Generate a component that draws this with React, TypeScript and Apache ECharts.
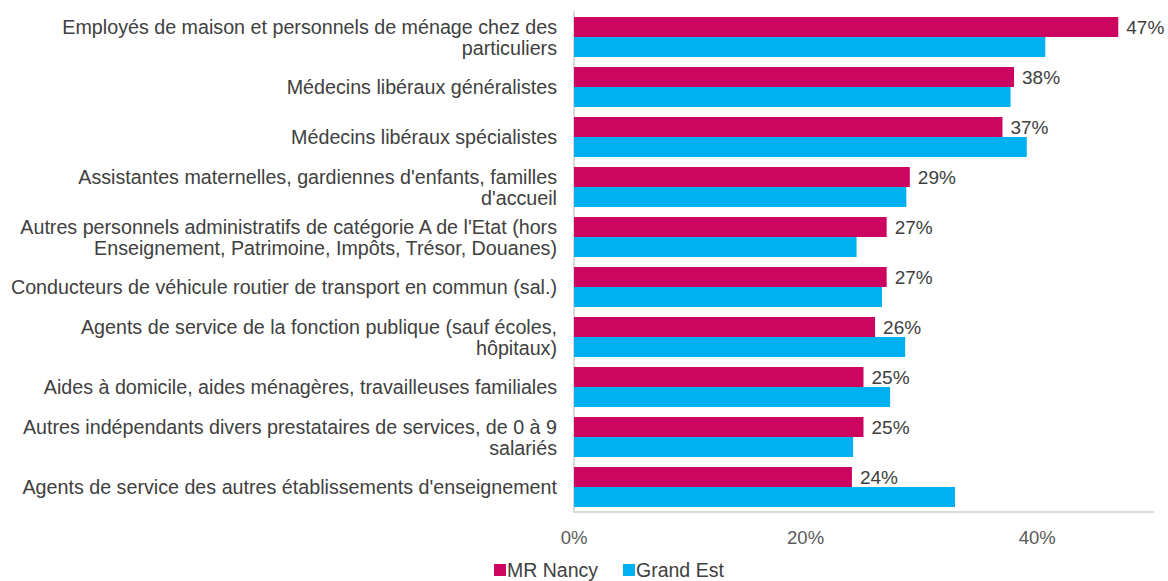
import React, { useEffect, useRef } from "react";
import * as echarts from "echarts";

const categories = [
  "Employés de maison et personnels de ménage chez des\nparticuliers",
  "Médecins libéraux généralistes",
  "Médecins libéraux spécialistes",
  "Assistantes maternelles, gardiennes d'enfants, familles\nd'accueil",
  "Autres personnels administratifs de catégorie A de l'Etat (hors\nEnseignement, Patrimoine, Impôts, Trésor, Douanes)",
  "Conducteurs de véhicule routier de transport en commun (sal.)",
  "Agents de service de la fonction publique (sauf écoles,\nhôpitaux)",
  "Aides à domicile, aides ménagères, travailleuses familiales",
  "Autres indépendants divers prestataires de services, de 0 à 9\nsalariés",
  "Agents de service des autres établissements d'enseignement",
];
const mrNancy = [47, 38, 37, 29, 27, 27, 26, 25, 25, 24];
const grandEst = [40.7, 37.7, 39.1, 28.7, 24.4, 26.6, 28.6, 27.3, 24.1, 32.9];
const seriesNames = ["MR Nancy", "Grand Est"];
const colors = ["#CC0660", "#00B0F0"];

export default function App() {
  const ref = useRef<HTMLDivElement>(null);
  useEffect(() => {
    const chart = echarts.init(ref.current!, undefined, { renderer: "svg" });
    const font = "Liberation Sans, Arial, sans-serif";
    chart.setOption({
      animation: false,
      textStyle: { fontFamily: font },
      grid: { left: 574, right: 15, top: 12, bottom: 69, containLabel: false },
      legend: {
        top: 560,
        left: 494,
        itemWidth: 12,
        itemHeight: 12,
        itemGap: 25,
        icon: "rect",
        padding: 0,
        textStyle: { fontSize: 19.5, color: "#404040", fontFamily: font, padding: [0, 0, 0, -4] },
        data: seriesNames,
      },
      xAxis: {
        type: "value",
        min: 0,
        max: 50,
        interval: 20,
        splitLine: { show: false },
        axisLine: { show: true, lineStyle: { color: "#D9D9D9", width: 2 } },
        axisTick: { show: false },
        axisLabel: {
          showMaxLabel: false,
          formatter: (v: number) => v + "%",
          fontSize: 18.5,
          color: "#595959",
          margin: 16,
        },
      },
      yAxis: {
        type: "category",
        inverse: true,
        data: categories,
        axisLine: { show: true, lineStyle: { color: "#D9D9D9", width: 2 } },
        axisTick: { show: false },
        axisLabel: {
          fontSize: 19.7,
          color: "#404040",
          margin: 17,
          lineHeight: 21,
          align: "right",
        },
      },
      series: [
        {
          name: seriesNames[0],
          type: "bar",
          data: mrNancy,
          itemStyle: { color: colors[0] },
          barGap: "0%",
          barCategoryGap: "20%",
          label: {
            show: true,
            position: "right",
            distance: 8,
            formatter: (p: any) => Math.round(p.value) + "%",
            fontSize: 19,
            color: "#404040",
            fontFamily: font,
          },
        },
        {
          name: seriesNames[1],
          type: "bar",
          data: grandEst,
          itemStyle: { color: colors[1] },
          barGap: "0%",
          barCategoryGap: "20%",
        },
      ],
    });
    return () => chart.dispose();
  }, []);
  return (
    <div
      ref={ref}
      style={{ position: "absolute", left: 0, top: 0, width: 1168, height: 581 }}
    />
  );
}
